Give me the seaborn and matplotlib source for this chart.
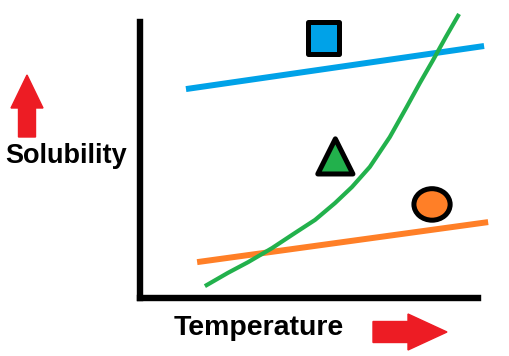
import matplotlib
matplotlib.use('Agg')
import matplotlib.pyplot as plt
import pandas as pd
import seaborn as sns
from matplotlib.patches import FancyArrow
from matplotlib.path import Path
from matplotlib.transforms import Affine2D

# sketch values, temperature / solubility on a 0-100 scale
blue_t = [13.6, 101.8]
blue_s = [75.7, 91.3]
orange_t = [16.9, 103.0]
orange_s = [13.0, 27.5]
green_t = [19.2, 26.0, 32.0, 39.1, 45.9, 51.8, 57.7, 62.7, 68.0, 73.9, 78.9, 82.8, 86.7, 90.5, 94.4]
green_s = [4.3, 9.1, 13.0, 18.1, 23.6, 28.3, 34.4, 40.2, 47.5, 58.3, 69.2, 77.9, 86.2, 94.6, 102.9]

# one symbol next to each curve
sym_names = ['square', 'triangle', 'circle']
sym_t = [54.4, 57.8, 86.4]
sym_s = [94.2, 51.3, 33.9]

blue = '#00a2e8'
green = '#22b14c'
orange = '#ff7f27'
red = '#ed1c24'

sns.set_style('white')
plt.rcParams['font.family'] = ['Liberation Sans', 'DejaVu Sans']

fig = plt.figure(figsize=(5.1, 3.56), dpi=100)
ax = fig.add_axes([140 / 510, 58 / 356, 338 / 510, 276 / 356])

sns.lineplot(x=blue_t, y=blue_s, color=blue, lw=4.3, sort=False, estimator=None,
             solid_capstyle='butt', clip_on=False, ax=ax)
sns.lineplot(x=orange_t, y=orange_s, color=orange, lw=4.3, sort=False, estimator=None,
             solid_capstyle='butt', clip_on=False, ax=ax)
sns.lineplot(x=green_t, y=green_s, color=green, lw=3.0, sort=False, estimator=None,
             solid_capstyle='butt', solid_joinstyle='round', clip_on=False, ax=ax)

ellipse = Path.unit_circle().transformed(Affine2D().scale(1.0, 0.87))
sym = pd.DataFrame({'t': sym_t, 's': sym_s, 'name': sym_names})
sns.scatterplot(data=sym, x='t', y='s', hue='name', style='name',
                palette={'square': blue, 'triangle': green, 'circle': orange},
                markers={'square': 's', 'triangle': '^', 'circle': ellipse},
                size='name', sizes={'square': 500, 'triangle': 640, 'circle': 680},
                edgecolor='black', linewidth=3.6, legend=False, clip_on=False,
                zorder=5, ax=ax)

ax.set_xlim(0, 100)
ax.set_ylim(0, 100)
ax.set_xticks([])
ax.set_yticks([])
ax.set_xlabel('')
ax.set_ylabel('')
sns.despine(ax=ax)
for side in ['left', 'bottom']:
    ax.spines[side].set_linewidth(4.6)
    ax.spines[side].set_color('black')

fig.text(5 / 510, (356 - 163) / 356, 'Solubility', fontsize=19.5, fontweight='bold',
         color='black', va='baseline', ha='left')
fig.text(174 / 510, (356 - 335) / 356, 'Temperature', fontsize=20.5, fontweight='bold',
         color='black', va='baseline', ha='left')

# red arrows drawn in inches
fig.add_artist(FancyArrow(0.27, 2.19, 0, 0.62, width=0.17, head_width=0.32,
                          head_length=0.33, length_includes_head=True, color=red,
                          transform=fig.dpi_scale_trans))
fig.add_artist(FancyArrow(3.73, 0.24, 0.74, 0, width=0.21, head_width=0.36,
                          head_length=0.39, length_includes_head=True, color=red,
                          transform=fig.dpi_scale_trans))

fig.savefig('out.png', dpi=100)
